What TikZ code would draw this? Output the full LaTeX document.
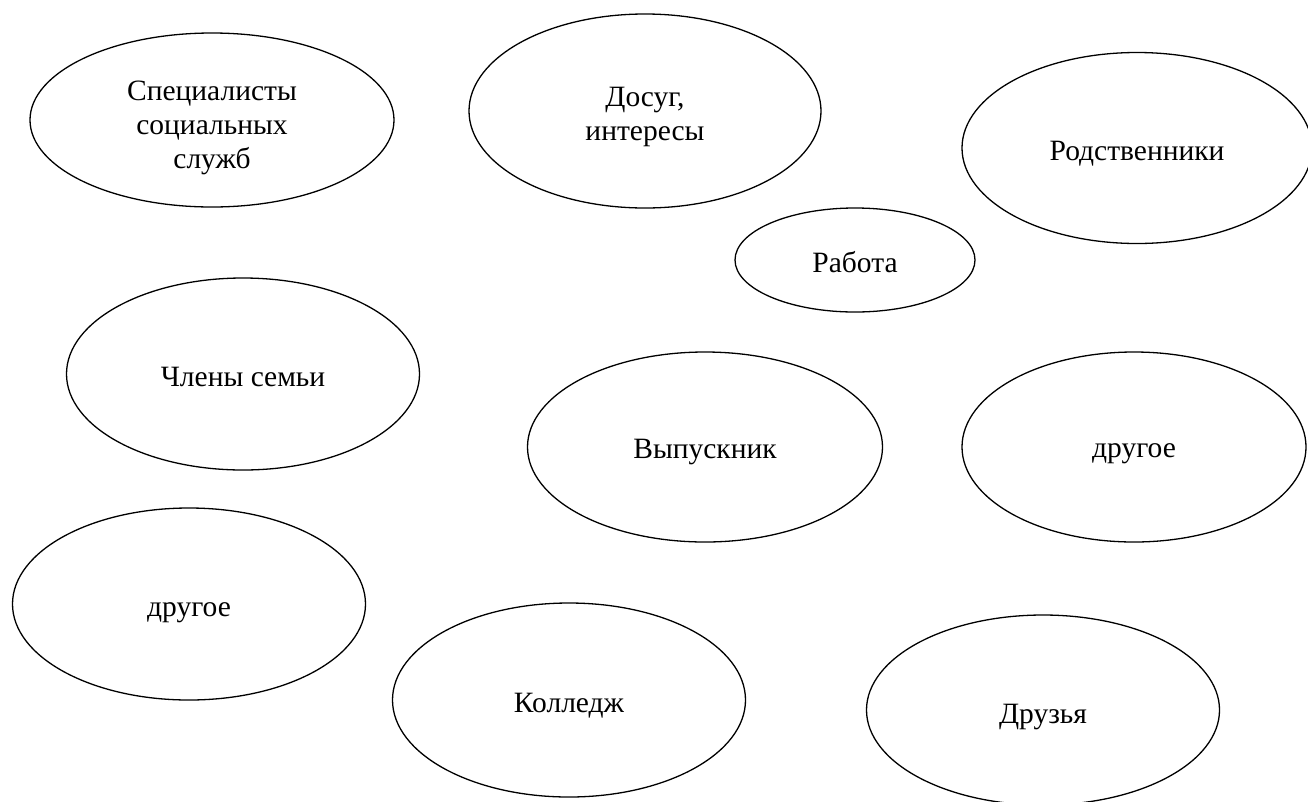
\documentclass[tikz,border=0pt]{standalone}
\usepackage{fontspec}
\setmainfont{Liberation Serif}
\newfontfamily\tnrfont{Liberation Serif}
\usetikzlibrary{shapes.geometric,calc}
\begin{document}
\begin{tikzpicture}[x=1pt,y=-1pt,
  oval/.style={ellipse, draw=black, line width=1.3pt, inner sep=0pt},
  lbl/.style={inner sep=0pt, font=\tnrfont\fontsize{29.5}{34}\selectfont, align=center},
]
\useasboundingbox (0,0) rectangle (1308,801);
\clip (0,0) rectangle (1308,801);
% ellipses
\node[oval, minimum width=364pt, minimum height=174pt] (spec) at (212,120) {};
\node[oval, minimum width=352pt, minimum height=194pt] (dosug) at (645,111) {};
\node[oval, minimum width=350pt, minimum height=191pt] (rodst) at (1137,148) {};
\node[oval, minimum width=240pt, minimum height=104pt] (rabota) at (855,260) {};
\node[oval, minimum width=353pt, minimum height=192pt] (chleny) at (243,374) {};
\node[oval, minimum width=355pt, minimum height=190pt] (vyp) at (705,447) {};
\node[oval, minimum width=344pt, minimum height=190pt] (drugR) at (1134,447) {};
\node[oval, minimum width=353pt, minimum height=192pt] (drugL) at (189,604) {};
\node[oval, minimum width=353pt, minimum height=194pt] (koll) at (569,700) {};
\node[oval, minimum width=353pt, minimum height=190pt] (druz) at (1043,710) {};
% labels
\node[lbl] (spec-t) at ($(spec.center)+(0,8)$) {Специалисты\\социальных\\служб};
\node[lbl] (dosug-t) at ($(dosug.center)+(0,6)$) {Досуг,\\интересы};
\node[lbl, anchor=base] (rodst-t) at ($(rodst.center)+(0,12)$) {Родственники};
\node[lbl, anchor=base] (rabota-t) at ($(rabota.center)+(0,12)$) {Работа};
\node[lbl, anchor=base] (chleny-t) at ($(chleny.center)+(0,12)$) {Члены семьи};
\node[lbl, anchor=base] (vyp-t) at ($(vyp.center)+(0,11)$) {Выпускник};
\node[lbl, anchor=base] (drugR-t) at ($(drugR.center)+(0,10)$) {другое};
\node[lbl, anchor=base] (drugL-t) at ($(drugL.center)+(0,12)$) {другое};
\node[lbl, anchor=base] (koll-t) at ($(koll.center)+(0,12)$) {Колледж};
\node[lbl, anchor=base] (druz-t) at ($(druz.center)+(0,13)$) {Друзья};
\end{tikzpicture}
\end{document}
